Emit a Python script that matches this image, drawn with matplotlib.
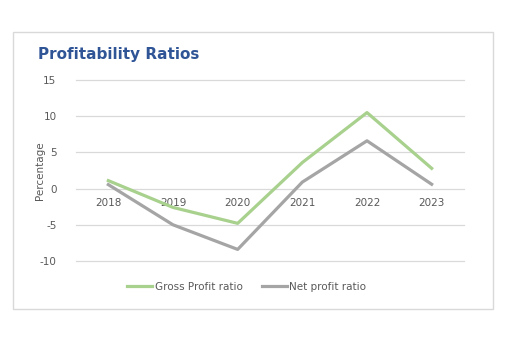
import numpy as np
import matplotlib.pyplot as plt
from matplotlib.patches import Rectangle

plt.rcParams["axes.unicode_minus"] = False

years = ["2018", "2019", "2020", "2021", "2022", "2023"]
gross_profit = [1.1, -2.6, -4.8, 3.6, 10.5, 2.8]
net_profit = [0.55, -5.0, -8.4, 0.9, 6.6, 0.6]

W, H = 507, 347
fig = plt.figure(figsize=(W / 100, H / 100), dpi=100)
fig.patch.set_facecolor("white")

# outer chart border like the spreadsheet chart box
fig.patches.append(Rectangle((13 / W, 1 - 309 / H), 480 / W, 277 / H,
                             transform=fig.transFigure, fill=False,
                             edgecolor="#d9d9d9", linewidth=1))

ax = fig.add_axes([76 / W, 1 - 261 / H, 388 / W, 181 / H])
x = np.arange(len(years))
ax.plot(x, gross_profit, color="#a9d18e", linewidth=2.3, label="Gross Profit ratio")
ax.plot(x, net_profit, color="#a5a5a5", linewidth=2.3, label="Net profit ratio")

ax.set_xlim(-0.5, 5.5)
ax.set_ylim(-10, 15)
ax.set_yticks([-10, -5, 0, 5, 10, 15])
ax.grid(axis="y", color="#d9d9d9", linewidth=0.9)
for gl in ax.get_ygridlines():
    gl.set_clip_on(False)
ax.set_axisbelow(True)
for s in ["top", "right", "left"]:
    ax.spines[s].set_visible(False)
ax.spines["bottom"].set_position(("data", 0))
ax.spines["bottom"].set_visible(False)
ax.set_xticks(x)
ax.set_xticklabels(years)
ax.tick_params(axis="both", length=0, labelsize=7.5, labelcolor="#595959")
ax.tick_params(axis="x", pad=7)
ax.tick_params(axis="y", pad=14)
ax.set_ylabel("Percentage", fontsize=7.5, color="#595959")
ax.yaxis.set_label_coords(-0.08, 0.5)

fig.text(38 / W, 1 - 54 / H, "Profitability Ratios", fontsize=11, fontweight="bold",
         color="#2f5597", va="center", ha="left")

ax.legend(loc="center", bbox_to_anchor=(0.44, -0.144), ncol=2, frameon=False,
          fontsize=7.5, labelcolor="#595959", handlelength=2.4, columnspacing=1.8,
          handletextpad=0.25)

fig.savefig("out.png", dpi=100)
